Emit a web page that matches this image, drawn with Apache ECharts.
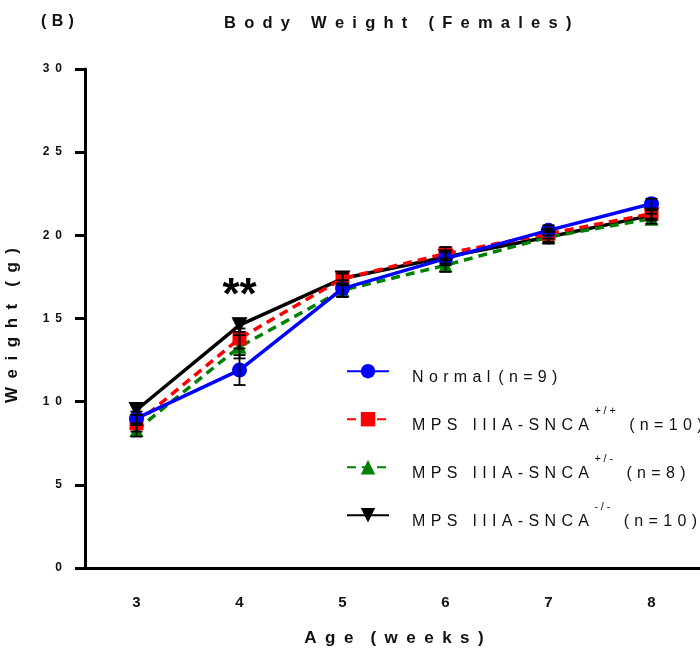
<!DOCTYPE html>
<html>
<head>
<meta charset="utf-8">
<script src="https://cdn.jsdelivr.net/npm/echarts@6/dist/echarts.min.js"></script>
<style>
html, body { margin: 0; padding: 0; background: #fff; }
#main { width: 700px; height: 652px; }
</style>
</head>
<body>
<div id="main"></div>
<script>
var weeks = ['3', '4', '5', '6', '7', '8'];
var yTicks = [0, 5, 10, 15, 20, 25, 30];

var normal = [9.0, 11.9, 16.8, 18.6, 20.3, 21.9];
var normalErr = [0.4, 0.9, 0.5, 0.4, 0.3, 0.3];
var sncaPP = [8.7, 13.8, 17.4, 18.9, 20.1, 21.3];
var sncaPPErr = [0.5, 0.6, 0.4, 0.4, 0.3, 0.3];
var sncaPM = [8.3, 13.3, 16.7, 18.2, 19.9, 21.0];
var sncaPMErr = [0.4, 0.7, 0.4, 0.4, 0.3, 0.3];
var sncaMM = [9.5, 14.6, 17.4, 18.7, 19.9, 21.2];
var sncaMMErr = [0.3, 0.4, 0.3, 0.4, 0.4, 0.3];

var font = '"Liberation Sans", Arial, sans-serif';

// letter-spaced look of the original figure
function spaced(s, sep) {
    return s.split('').join(sep || '\u2002');
}

var myChart = echarts.init(document.getElementById('main'));

function errorSeries(name, vals, errs, z) {
    var data = vals.map(function (v, i) {
        return [i, v - errs[i], v + errs[i]];
    });
    return {
        type: 'custom',
        name: name + '_err',
        z: z,
        silent: true,
        data: data,
        renderItem: function (params, api) {
            var lo = api.coord([api.value(0), api.value(1)]);
            var hi = api.coord([api.value(0), api.value(2)]);
            var w = 6;
            var st = { stroke: '#000', lineWidth: 1.8 };
            return {
                type: 'group',
                children: [
                    { type: 'line', shape: { x1: lo[0], y1: lo[1], x2: hi[0], y2: hi[1] }, style: st },
                    { type: 'line', shape: { x1: lo[0] - w, y1: lo[1], x2: lo[0] + w, y2: lo[1] }, style: st },
                    { type: 'line', shape: { x1: hi[0] - w, y1: hi[1], x2: hi[0] + w, y2: hi[1] }, style: st }
                ]
            };
        }
    };
}

var ls = '\u2004';
var ss = '\u2005';
var legendNames = {
    'Normal': '{t|' + spaced('Normal', ls) + '\u2002' + spaced('(n=9)', ls) + '}',
    'PP': '{t|' + spaced('MPS IIIA-SNCA', ls) + '}{s|\u2002' + spaced('+/+', ss) + '}{t|\u2002\u2004' + spaced('(n=10)', ls) + '}',
    'PM': '{t|' + spaced('MPS IIIA-SNCA', ls) + '}{s|\u2002' + spaced('+/-', ss) + '}{t|\u2002\u2004' + spaced('(n=8)', ls) + '}',
    'MM': '{t|' + spaced('MPS IIIA-SNCA', ls) + '}{s|\u2002' + spaced('-/-', ss) + '}{t|\u2002\u2004' + spaced('(n=10)', ls) + '}'
};

var option = {
    backgroundColor: '#fff',
    animation: false,
    textStyle: { fontFamily: font },
    title: [
        {
            text: spaced('Body Weight (Females)'),
            left: 219,
            top: 10,
            textStyle: { fontFamily: font, fontSize: 16.5, fontWeight: 'bold', color: '#111' }
        },
        {
            text: spaced('(B)', '\u2004'),
            left: 36,
            top: 9,
            textStyle: { fontFamily: font, fontSize: 16, fontWeight: 'bold', color: '#111' }
        }
    ],
    legend: {
        orient: 'vertical',
        left: 346,
        top: 364,
        padding: 0,
        itemWidth: 42,
        itemHeight: 18,
        itemGap: 20,
        data: ['Normal', 'PP', 'PM', 'MM'],
        formatter: function (name) {
            return legendNames[name];
        },
        textStyle: {
            padding: [0, 0, 0, 18],
            rich: {
                t: { fontFamily: font, fontSize: 16, color: '#111', lineHeight: 28, verticalAlign: 'bottom' },
                s: { fontFamily: font, fontSize: 11, color: '#111', lineHeight: 28, verticalAlign: 'top' }
            }
        }
    },
    grid: { left: 85, right: -3, top: 69, bottom: 84, outerBoundsMode: 'none' },
    xAxis: {
        type: 'category',
        data: weeks,
        boundaryGap: true,
        name: spaced('Age') + '\u2002\u2002' + spaced('(weeks)'),
        nameLocation: 'middle',
        nameGap: 62,
        nameTextStyle: { fontFamily: font, fontSize: 17, fontWeight: 'bold', color: '#111' },
        axisLine: { lineStyle: { color: '#000', width: 3 } },
        axisTick: { alignWithLabel: true, length: 13, lineStyle: { color: '#000', width: 3 } },
        axisLabel: { margin: 27, fontFamily: font, fontSize: 15, fontWeight: 'bold', color: '#111' },
        splitLine: { show: false }
    },
    yAxis: {
        type: 'value',
        min: 0,
        max: 30,
        interval: 5,
        name: spaced('Weight') + '\u2002\u2002' + spaced('(g)'),
        nameLocation: 'middle',
        nameGap: 64,
        nameTextStyle: { fontFamily: font, fontSize: 17, fontWeight: 'bold', color: '#111', padding: [0, 14, 0, 0] },
        axisLine: { show: true, lineStyle: { color: '#000', width: 3 } },
        axisTick: { show: true, length: 10, lineStyle: { color: '#000', width: 3 } },
        axisLabel: {
            margin: 23,
            fontFamily: font, fontSize: 12, fontWeight: 'bold', color: '#111',
            formatter: function (v) {
                return yTicks.indexOf(v) >= 0 ? spaced(String(v), '\u2002') : '';
            }
        },
        splitLine: { show: false }
    },
    series: [
        {
            name: 'MM',
            type: 'line',
            z: 2,
            data: sncaMM,
            symbol: 'triangle',
            symbolRotate: 180,
            symbolSize: 16,
            itemStyle: { color: '#000' },
            lineStyle: { color: '#000', width: 3.5 },
            markPoint: {
                symbol: 'circle',
                symbolSize: 0,
                data: [{ coord: ['4', 16.3], value: '**' }],
                label: {
                    show: true,
                    formatter: '**',
                    fontFamily: font,
                    fontSize: 44,
                    fontWeight: 'bold',
                    color: '#000'
                }
            }
        },
        {
            name: 'PM',
            type: 'line',
            z: 3,
            data: sncaPM,
            symbol: 'triangle',
            symbolSize: 14,
            itemStyle: { color: '#008000' },
            lineStyle: { color: '#008000', width: 3.5, type: [9, 6] }
        },
        {
            name: 'PP',
            type: 'line',
            z: 4,
            data: sncaPP,
            symbol: 'rect',
            symbolSize: 14,
            itemStyle: { color: '#ff0000' },
            lineStyle: { color: '#ff0000', width: 3.5, type: [9, 6] }
        },
        {
            name: 'Normal',
            type: 'line',
            z: 5,
            data: normal,
            symbol: 'circle',
            symbolSize: 15,
            itemStyle: { color: '#0000ff' },
            lineStyle: { color: '#0000ff', width: 3.5 }
        },
        errorSeries('MM', sncaMM, sncaMMErr, 6),
        errorSeries('PM', sncaPM, sncaPMErr, 6),
        errorSeries('PP', sncaPP, sncaPPErr, 6),
        errorSeries('Normal', normal, normalErr, 6)
    ]
};

myChart.setOption(option);
</script>
</body>
</html>
